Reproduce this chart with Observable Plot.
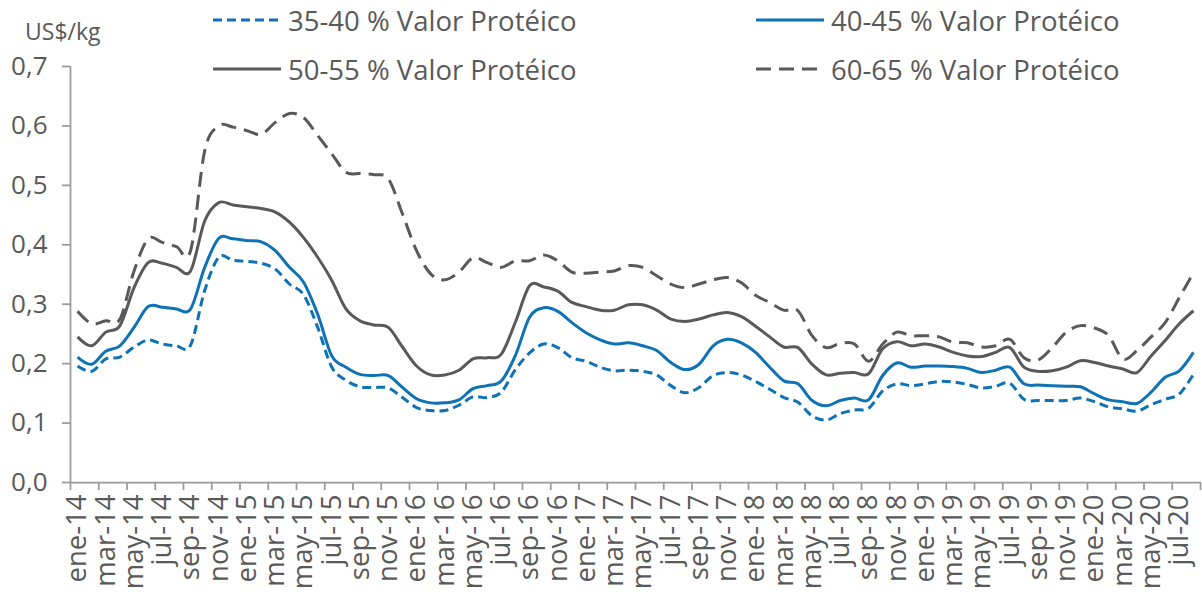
<!DOCTYPE html>
<html>
<head>
<meta charset="utf-8">
<script src="https://cdn.jsdelivr.net/npm/d3@7"></script>
<script src="https://cdn.jsdelivr.net/npm/@observablehq/plot@0.6"></script>
<style>
  html, body { margin: 0; padding: 0; background: #fff; }
  #wrap { position: relative; width: 1202px; height: 601px; font-family: "Open Sans", sans-serif; color: #595959; overflow: hidden; }
  #wrap svg.plot { position: absolute; left: 0; top: 0; }
  .leg { position: absolute; height: 40px; display: flex; align-items: center; font-size: 27.5px; white-space: nowrap; }
  .leg svg { display: block; margin-right: 7px; }
  #unit { position: absolute; left: 25px; top: 15px; font-size: 23px; line-height: 32px; }
</style>
</head>
<body>
<div id="wrap"></div>
<script>
// ---- Data: monthly prices (US$/kg), ene-14 .. ago-20 (80 months) ----
const seriesNames = ["35-40 % Valor Protéico", "40-45 % Valor Protéico", "50-55 % Valor Protéico", "60-65 % Valor Protéico"];

const s35 = [0.196,0.187,0.208,0.211,0.228,0.240,0.233,0.230,0.231,0.323,0.379,0.374,0.372,0.369,0.359,0.334,
  0.316,0.261,0.194,0.172,0.161,0.160,0.159,0.143,0.126,0.121,0.121,0.130,0.144,0.143,0.152,0.190,
  0.218,0.233,0.227,0.210,0.204,0.194,0.188,0.189,0.187,0.181,0.163,0.151,0.160,0.180,0.185,0.181,
  0.170,0.157,0.143,0.135,0.112,0.105,0.116,0.122,0.125,0.154,0.166,0.163,0.166,0.170,0.169,0.165,
  0.159,0.162,0.167,0.140,0.138,0.138,0.138,0.142,0.136,0.127,0.124,0.120,0.131,0.140,0.149,0.182];

const s40 = [0.211,0.199,0.221,0.230,0.261,0.296,0.295,0.292,0.292,0.362,0.411,0.410,0.407,0.405,0.390,0.362,
  0.337,0.283,0.213,0.194,0.182,0.180,0.180,0.160,0.141,0.134,0.134,0.139,0.158,0.163,0.171,0.214,
  0.278,0.294,0.288,0.269,0.252,0.240,0.233,0.235,0.230,0.222,0.202,0.190,0.199,0.230,0.241,0.235,
  0.219,0.194,0.171,0.166,0.138,0.129,0.138,0.142,0.139,0.180,0.201,0.194,0.196,0.196,0.195,0.192,
  0.185,0.189,0.194,0.166,0.164,0.163,0.162,0.161,0.149,0.139,0.136,0.133,0.152,0.177,0.188,0.219];

const s50 = [0.245,0.230,0.253,0.264,0.328,0.370,0.369,0.362,0.356,0.440,0.471,0.467,0.464,0.461,0.455,0.438,
  0.412,0.379,0.340,0.292,0.272,0.265,0.261,0.228,0.196,0.181,0.181,0.189,0.208,0.210,0.216,0.270,
  0.331,0.329,0.322,0.303,0.296,0.290,0.290,0.299,0.299,0.290,0.275,0.271,0.275,0.282,0.286,0.279,
  0.263,0.245,0.228,0.227,0.199,0.181,0.184,0.185,0.183,0.225,0.237,0.230,0.233,0.228,0.219,0.213,
  0.212,0.219,0.227,0.194,0.187,0.188,0.194,0.205,0.202,0.196,0.191,0.185,0.213,0.239,0.267,0.289];

const s60 = [0.288,0.267,0.272,0.275,0.356,0.410,0.404,0.397,0.390,0.558,0.600,0.598,0.592,0.586,0.606,0.621,
  0.614,0.584,0.553,0.522,0.520,0.518,0.511,0.452,0.390,0.351,0.341,0.354,0.378,0.370,0.362,0.373,
  0.373,0.383,0.373,0.354,0.352,0.354,0.356,0.365,0.362,0.348,0.334,0.328,0.334,0.341,0.345,0.336,
  0.315,0.303,0.290,0.289,0.247,0.227,0.234,0.233,0.204,0.233,0.253,0.247,0.247,0.245,0.236,0.235,
  0.228,0.230,0.241,0.210,0.206,0.227,0.253,0.264,0.260,0.247,0.208,0.222,0.245,0.269,0.311,0.353];

// x tick labels (every second month, starting ene-14)
const tickLabels = ["ene-14","mar-14","may-14","jul-14","sep-14","nov-14",
  "ene-15","mar-15","may-15","jul-15","sep-15","nov-15",
  "ene-16","mar-16","may-16","jul-16","sep-16","nov-16",
  "ene-17","mar-17","may-17","jul-17","sep-17","nov-17",
  "ene-18","mar-18","may-18","jul-18","sep-18","nov-18",
  "ene-19","mar-19","may-19","jul-19","sep-19","nov-19",
  "ene-20","mar-20","may-20","jul-20"];

const yTicks = [0, 0.1, 0.2, 0.3, 0.4, 0.5, 0.6, 0.7];

// ---- Styles ----
const blue = "#0e72b5", grey = "#595959", axisColor = "#9a9a9a", textColor = "#595959";
const styles = [
  {stroke: blue, dash: "9,5"},
  {stroke: blue, dash: null},
  {stroke: grey, dash: null},
  {stroke: grey, dash: "15,8"}
];
const allSeries = [s35, s40, s50, s60];
const nMonths = s35.length;

const rows = allSeries.map(s => s.map((v, i) => ({i: i + 0.5, v})));
const fmt = d => d3.format(".1f")(d).replace(".", ",");

const chart = Plot.plot({
  width: 1202,
  height: 601,
  marginTop: 66,
  marginBottom: 119,
  marginLeft: 70,
  marginRight: 2,
  style: {fontFamily: "Open Sans, sans-serif", color: textColor, background: "transparent", overflow: "visible"},
  x: {domain: [0, nMonths], axis: null},
  y: {domain: [0, 0.7], axis: null},
  marks: [
    Plot.axisY({ticks: yTicks, tickSize: 8, tickPadding: 15, tickFormat: fmt, stroke: axisColor, strokeWidth: 1.75, fill: textColor, fontSize: 26, label: null}),
    Plot.axisX({ticks: d3.range(0, nMonths + 1, 2), tickSize: 8, tickFormat: () => "", stroke: axisColor, strokeWidth: 1.75, label: null}),
    Plot.axisX({ticks: tickLabels.map((_, k) => 2 * k + 0.5), tickSize: 0, tickPadding: 12, tickRotate: -90,
      tickFormat: d => tickLabels[Math.round((d - 0.5) / 2)], fill: textColor, fontSize: 27.5, label: null}),
    Plot.ruleX([0], {stroke: axisColor, strokeWidth: 1.75}),
    Plot.ruleY([0], {stroke: axisColor, strokeWidth: 1.75}),
    ...rows.map((r, k) => Plot.line(r, {
      x: "i", y: "v", curve: "cardinal", tension: 0,
      stroke: styles[k].stroke, strokeWidth: 3,
      strokeDasharray: styles[k].dash, strokeLinejoin: "round", strokeLinecap: "butt"
    }))
  ]
});
chart.classList.add("plot");

const wrap = document.getElementById("wrap");
wrap.appendChild(chart);

// ---- Legend (HTML, above the plot area) ----
const legendPos = [
  {left: 213, top: 0},
  {left: 756, top: 0},
  {left: 213, top: 49},
  {left: 756, top: 49}
];
seriesNames.forEach((name, k) => {
  const div = document.createElement("div");
  div.className = "leg";
  div.style.left = legendPos[k].left + "px";
  div.style.top = legendPos[k].top + "px";
  const dash = styles[k].dash ? ` stroke-dasharray="${styles[k].dash}"` : "";
  div.innerHTML = `<svg width="68" height="8"><line x1="0" y1="4" x2="68" y2="4" stroke="${styles[k].stroke}" stroke-width="3"${dash}/></svg><span>${name}</span>`;
  wrap.appendChild(div);
});

const unit = document.createElement("div");
unit.id = "unit";
unit.textContent = "US$/kg";
wrap.appendChild(unit);
</script>
</body>
</html>
